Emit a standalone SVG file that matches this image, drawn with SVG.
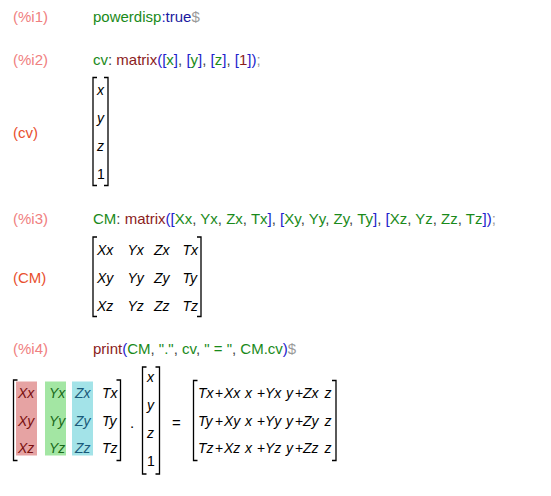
<svg xmlns="http://www.w3.org/2000/svg" width="551" height="496" viewBox="0 0 551 496">
<style>
text{font-family:"Liberation Sans",Arial,sans-serif;font-size:15px}
.lin{fill:#f08080}
.lout{fill:#e8502e}
.g{fill:#1a8a1a}
.m{fill:#8b1c1c}
.b{fill:#2222cc}
.n{fill:#1a1aa0}
.gr{fill:#9a9a9a}
.d{fill:#444}
.e{font-size:14px;font-style:italic;fill:#000}
.up{font-style:normal}
.br{fill:none;stroke:#000;stroke-width:1.3}
</style>
<rect width="551" height="496" fill="#fff"/>
<g id="in1">
<text x="13" y="22" class="lin">(%i1)</text>
<text x="93" y="22"><tspan class="g">powerdisp</tspan><tspan class="b">:</tspan><tspan class="n">true</tspan><tspan class="gr">$</tspan></text>
</g>
<g id="in2">
<text x="13" y="65" class="lin">(%i2)</text>
<text x="93" y="65"><tspan class="g">cv</tspan><tspan class="d">: </tspan><tspan class="m">matrix</tspan><tspan class="b">([</tspan><tspan class="g">x</tspan><tspan class="b">]</tspan><tspan class="d">, </tspan><tspan class="b">[</tspan><tspan class="g">y</tspan><tspan class="b">]</tspan><tspan class="d">, </tspan><tspan class="b">[</tspan><tspan class="g">z</tspan><tspan class="b">]</tspan><tspan class="d">, </tspan><tspan class="b">[</tspan><tspan class="m">1</tspan><tspan class="b">])</tspan><tspan class="gr">;</tspan></text>
</g>
<g id="out-cv">
<text x="13" y="138" class="lout">(cv)</text>
<path class="br" d="M97,77.5H93V185.5H97M104,77.5H108V185.5H104"/>
<text class="e" x="97" y="95">x</text>
<text class="e" x="97" y="123">y</text>
<text class="e" x="97" y="151">z</text>
<text class="e up" x="97" y="179">1</text>
</g>
<g id="in3">
<text x="13" y="223.5" class="lin">(%i3)</text>
<text x="93" y="223.5"><tspan class="g">CM</tspan><tspan class="d">: </tspan><tspan class="m">matrix</tspan><tspan class="b">([</tspan><tspan class="g">Xx</tspan><tspan class="d">, </tspan><tspan class="g">Yx</tspan><tspan class="d">, </tspan><tspan class="g">Zx</tspan><tspan class="d">, </tspan><tspan class="g">Tx</tspan><tspan class="b">]</tspan><tspan class="d">, </tspan><tspan class="b">[</tspan><tspan class="g">Xy</tspan><tspan class="d">, </tspan><tspan class="g">Yy</tspan><tspan class="d">, </tspan><tspan class="g">Zy</tspan><tspan class="d">, </tspan><tspan class="g">Ty</tspan><tspan class="b">]</tspan><tspan class="d">, </tspan><tspan class="b">[</tspan><tspan class="g">Xz</tspan><tspan class="d">, </tspan><tspan class="g">Yz</tspan><tspan class="d">, </tspan><tspan class="g">Zz</tspan><tspan class="d">, </tspan><tspan class="g">Tz</tspan><tspan class="b">])</tspan><tspan class="gr">;</tspan></text>
</g>
<g id="out-CM">
<text x="13" y="283" class="lout">(CM)</text>
<path class="br" d="M97,237H93V316.5H97M197,237H201V316.5H197"/>
<text class="e" y="255"><tspan x="97">Xx</tspan><tspan x="127.5">Yx</tspan><tspan x="154">Zx</tspan><tspan x="182.5">Tx</tspan></text>
<text class="e" y="283"><tspan x="97">Xy</tspan><tspan x="127.5">Yy</tspan><tspan x="154">Zy</tspan><tspan x="182.5">Ty</tspan></text>
<text class="e" y="311"><tspan x="97">Xz</tspan><tspan x="127.5">Yz</tspan><tspan x="154">Zz</tspan><tspan x="182.5">Tz</tspan></text>
</g>
<g id="in4">
<text x="13" y="353.5" class="lin">(%i4)</text>
<text x="93" y="353.5"><tspan class="m">print</tspan><tspan class="b">(</tspan><tspan class="g">CM</tspan><tspan class="d">, </tspan><tspan class="g">"."</tspan><tspan class="d">, </tspan><tspan class="g">cv</tspan><tspan class="d">, </tspan><tspan class="g">" = "</tspan><tspan class="d">, </tspan><tspan class="g">CM.cv</tspan><tspan class="b">)</tspan><tspan class="gr">$</tspan></text>
</g>
<g id="out4">
<rect x="16" y="381.5" width="21" height="74" fill="#e6a3a3"/>
<rect x="45" y="381.5" width="21" height="74" fill="#a3e6a3"/>
<rect x="72" y="381.5" width="21" height="74" fill="#a3e3e8"/>
<path class="br" d="M17.5,380H13.5V460.5H17.5M116.5,380H120.5V460.5H116.5"/>
<text class="e" y="397.5"><tspan x="18" fill="#7a1010">Xx</tspan><tspan x="49" fill="#1a6a1a">Yx</tspan><tspan x="75" fill="#1a5a7a">Zx</tspan><tspan x="102">Tx</tspan></text>
<text class="e" y="425.5"><tspan x="18" fill="#7a1010">Xy</tspan><tspan x="49" fill="#1a6a1a">Yy</tspan><tspan x="75" fill="#1a5a7a">Zy</tspan><tspan x="102">Ty</tspan></text>
<text class="e" y="453"><tspan x="18" fill="#7a1010">Xz</tspan><tspan x="49" fill="#1a6a1a">Yz</tspan><tspan x="75" fill="#1a5a7a">Zz</tspan><tspan x="102">Tz</tspan></text>
<text x="130" y="428" font-size="14">.</text>
<path class="br" d="M146.5,367H142.5V474H146.5M155.5,367H159.5V474H155.5"/>
<text class="e" x="147" y="382">x</text>
<text class="e" x="147" y="410">y</text>
<text class="e" x="147" y="438">z</text>
<text class="e up" x="147" y="466">1</text>
<text x="172" y="428" font-size="15">=</text>
<path class="br" d="M197.5,380.5H193.5V460.5H197.5M332,380.5H336V460.5H332"/>
<text class="e" y="397.5"><tspan x="198">Tx</tspan><tspan x="215" class="up">+</tspan><tspan x="224">Xx</tspan><tspan x="245">x</tspan><tspan x="257" class="up">+</tspan><tspan x="265">Yx</tspan><tspan x="286">y</tspan><tspan x="295" class="up">+</tspan><tspan x="303">Zx</tspan><tspan x="324.5">z</tspan></text>
<text class="e" y="425.5"><tspan x="198">Ty</tspan><tspan x="215" class="up">+</tspan><tspan x="224">Xy</tspan><tspan x="245">x</tspan><tspan x="257" class="up">+</tspan><tspan x="265">Yy</tspan><tspan x="286">y</tspan><tspan x="295" class="up">+</tspan><tspan x="303">Zy</tspan><tspan x="324.5">z</tspan></text>
<text class="e" y="453"><tspan x="198">Tz</tspan><tspan x="215" class="up">+</tspan><tspan x="224">Xz</tspan><tspan x="245">x</tspan><tspan x="257" class="up">+</tspan><tspan x="265">Yz</tspan><tspan x="286">y</tspan><tspan x="295" class="up">+</tspan><tspan x="303">Zz</tspan><tspan x="324.5">z</tspan></text>
</g>
</svg>
